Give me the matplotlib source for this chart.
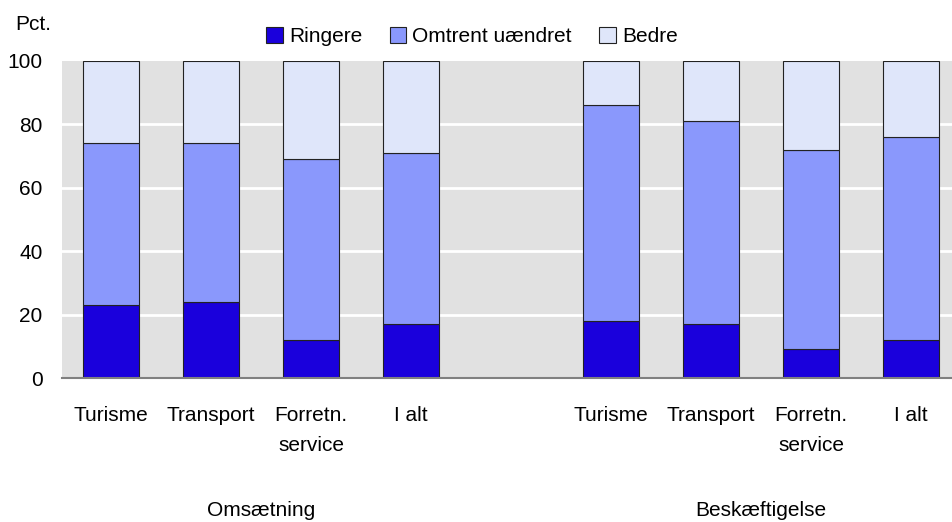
import numpy as np
import matplotlib
matplotlib.use("Agg")
import matplotlib.pyplot as plt
import matplotlib.transforms as mtransforms
from matplotlib.patches import Patch

plt.rcParams["font.family"] = ["Liberation Sans", "DejaVu Sans"]

# data
categories = ["Turisme", "Transport", "Forretn.\nservice", "I alt"]
groups = ["Omsætning", "Beskæftigelse"]
ringere = [23, 24, 12, 17, 18, 17, 9, 12]
omtrent_top = [74, 74, 69, 71, 86, 81, 72, 76]   # cumulative top of middle segment
series_names = ["Ringere", "Omtrent uændret", "Bedre"]

omtrent = [t - r for t, r in zip(omtrent_top, ringere)]
bedre = [100 - t for t in omtrent_top]

col_r = "#1a00dc"
col_o = "#8a98fc"
col_b = "#dfe6fa"
bg = "#e1e1e1"
fs = 15

# slot 4 left empty between the two groups
pos = np.array([0, 1, 2, 3, 5, 6, 7, 8])

fig = plt.figure(figsize=(9.52, 5.22), dpi=100)
ax = fig.add_axes([62 / 952, 1 - 378 / 522, 1 - 62 / 952, (378 - 61) / 522])
ax.set_facecolor(bg)

kw = dict(width=0.56, edgecolor="#222222", linewidth=0.8, zorder=3)
ax.bar(pos, ringere, color=col_r, **kw)
ax.bar(pos, omtrent, bottom=ringere, color=col_o, **kw)
ax.bar(pos, bedre, bottom=omtrent_top, color=col_b, **kw)

ax.set_ylim(0, 100)
ax.set_xlim(-0.49, 8.41)
ax.set_yticks([0, 20, 40, 60, 80, 100])
ax.tick_params(axis="y", length=0, pad=14, labelsize=fs)
ax.set_xticks(pos)
ax.set_xticklabels(categories * 2, fontsize=fs, linespacing=1.75)
ax.tick_params(axis="x", length=0, pad=20)

for y in [20, 40, 60, 80]:
    ax.axhline(y, color="white", lw=2, zorder=1)
for s in ["top", "right", "left"]:
    ax.spines[s].set_visible(False)
ax.spines["bottom"].set_color("#808080")
ax.spines["bottom"].set_linewidth(1.5)
ax.spines["bottom"].set_zorder(4)

# group labels under the category labels
tr = mtransforms.blended_transform_factory(ax.transData, fig.transFigure)
ax.text(pos[:4].mean(), 1 - 516 / 522, groups[0], transform=tr, ha="center",
        va="baseline", fontsize=fs)
ax.text(pos[4:].mean(), 1 - 516 / 522, groups[1], transform=tr, ha="center",
        va="baseline", fontsize=fs)

fig.text(15 / 952, 1 - 30 / 522, "Pct.", fontsize=fs, ha="left", va="baseline")

handles = [Patch(facecolor=c, edgecolor="#222222", linewidth=0.8)
           for c in [col_r, col_o, col_b]]
fig.legend(handles, series_names, loc="center", bbox_to_anchor=(472 / 952, 1 - 36.5 / 522),
           ncol=3, frameon=False, fontsize=fs, handlelength=0.8, handleheight=0.8,
           handletextpad=0.3, columnspacing=1.3, borderpad=0)

fig.savefig("out.png", dpi=100)
